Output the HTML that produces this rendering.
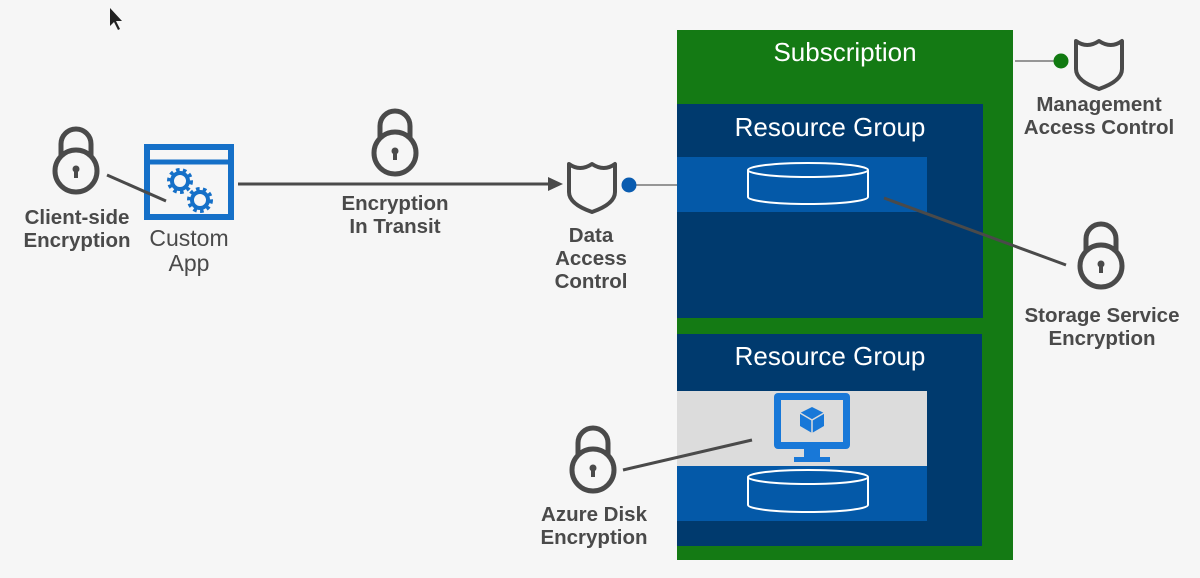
<!DOCTYPE html>
<html><head><meta charset="utf-8"><style>
html,body{margin:0;padding:0;background:#f6f6f6;}
svg{display:block;}
.b{font-family:"Liberation Sans",sans-serif;font-weight:bold;font-size:20.5px;fill:#4a4a4a;text-anchor:middle;}
.w{font-family:"Liberation Sans",sans-serif;font-size:26px;fill:#fff;text-anchor:middle;}
</style></head><body>
<svg width="1200" height="578" viewBox="0 0 1200 578" xmlns="http://www.w3.org/2000/svg">
<defs>
<g id="lock" fill="none" stroke="#4a4a4a" stroke-width="5">
<path d="M-15,-14 V-27 A15,15 0 0 1 15,-27 V-14"/>
<circle cx="0" cy="0" r="21"/>
<circle cx="0" cy="-2" r="3.5" fill="#4a4a4a" stroke="none"/>
<rect x="-2" y="-2" width="4" height="9" fill="#4a4a4a" stroke="none"/>
</g>
<path id="shield" d="M2,2 Q13,10 25,2 Q37,10 48,2 V30 Q48,42 25,50 Q2,42 2,30 Z" fill="none" stroke="#4a4a4a" stroke-width="4" stroke-linejoin="round"/>
</defs>
<rect width="1200" height="578" fill="#f6f6f6"/>
<path d="M110,8 L110,26 L114,22 L118,30 L120,29 L116,21 L122,21 Z" fill="#222"/>
<rect x="677" y="30" width="336" height="530" fill="#147a14"/>
<text class="w" x="845" y="61">Subscription</text>
<rect x="677" y="104" width="306" height="214" fill="#003a6e"/>
<text class="w" x="830" y="136">Resource Group</text>
<rect x="677" y="157" width="250" height="55" fill="#0459a8"/>
<g fill="none" stroke="#fff" stroke-width="2">
<ellipse cx="808" cy="170" rx="60" ry="7"/>
<path d="M748,170 V197 A60,7 0 0 0 868,197 V170"/>
</g>
<rect x="677" y="334" width="305" height="212" fill="#003a6e"/>
<text class="w" x="830" y="365">Resource Group</text>
<rect x="677" y="391" width="250" height="75" fill="#dcdcdc"/>
<rect x="677" y="466" width="250" height="55" fill="#0459a8"/>
<g fill="none" stroke="#fff" stroke-width="2">
<ellipse cx="808" cy="477" rx="60" ry="7"/>
<path d="M748,477 V505 A60,7 0 0 0 868,505 V477"/>
</g>
<rect x="774" y="393" width="76" height="56" rx="4" fill="#1878d8"/>
<rect x="781" y="400" width="62" height="42" fill="#dcdcdc"/>
<path d="M804,449 h16 v8 h10 v5 h-36 v-5 h10 z" fill="#1878d8"/>
<path d="M812,407 L824,413 L824,426 L812,433 L800,426 L800,413 Z" fill="#1878d8"/>
<path d="M800,413 L812,420 L824,413 M812,420 V433" stroke="#dcdcdc" stroke-width="1.5" fill="none"/>
<rect x="147" y="147" width="84" height="70" fill="none" stroke="#1570c8" stroke-width="6"/>
<line x1="147" y1="162" x2="231" y2="162" stroke="#1570c8" stroke-width="5"/>
<g fill="none" stroke="#1570c8" stroke-width="4">
<circle cx="180" cy="181" r="8"/><circle cx="200" cy="200" r="8"/>
</g>
<g stroke="#1570c8" stroke-width="4" stroke-dasharray="3.5 3.3">
<circle cx="180" cy="181" r="11" fill="none"/><circle cx="200" cy="200" r="11" fill="none"/>
</g>
<text x="189" y="246" font-family="Liberation Sans,sans-serif" font-size="23" fill="#4a4a4a" text-anchor="middle">Custom</text>
<text x="189" y="271" font-family="Liberation Sans,sans-serif" font-size="23" fill="#4a4a4a" text-anchor="middle">App</text>
<line x1="107" y1="175" x2="166" y2="201" stroke="#4a4a4a" stroke-width="3"/>
<line x1="238" y1="184" x2="550" y2="184" stroke="#4a4a4a" stroke-width="3"/>
<path d="M548,177 L563,184 L548,191 Z" fill="#4a4a4a"/>
<line x1="629" y1="185" x2="677" y2="185" stroke="#777" stroke-width="1.5"/>
<circle cx="629" cy="185" r="7.5" fill="#0a5cb0"/>
<line x1="1015" y1="61" x2="1060" y2="61" stroke="#777" stroke-width="1.5"/>
<circle cx="1061" cy="61" r="7.5" fill="#117a11"/>
<line x1="884" y1="198" x2="1066" y2="265" stroke="#4a4a4a" stroke-width="3"/>
<line x1="623" y1="470" x2="752" y2="440" stroke="#4a4a4a" stroke-width="3"/>
<use href="#lock" x="76" y="171"/>
<use href="#lock" x="395" y="153"/>
<use href="#lock" x="1101" y="266"/>
<use href="#lock" x="593" y="470"/>
<use href="#shield" x="567" y="162"/>
<use href="#shield" x="1074" y="39"/>
<text class="b" x="77" y="224">Client-side</text>
<text class="b" x="77" y="247">Encryption</text>
<text class="b" x="395" y="210">Encryption</text>
<text class="b" x="395" y="233">In Transit</text>
<text class="b" x="591" y="242">Data</text>
<text class="b" x="591" y="265">Access</text>
<text class="b" x="591" y="288">Control</text>
<text class="b" x="1099" y="111">Management</text>
<text class="b" x="1099" y="134">Access Control</text>
<text class="b" x="1102" y="322">Storage Service</text>
<text class="b" x="1102" y="345">Encryption</text>
<text class="b" x="594" y="521">Azure Disk</text>
<text class="b" x="594" y="544">Encryption</text>
</svg>
</body></html>
